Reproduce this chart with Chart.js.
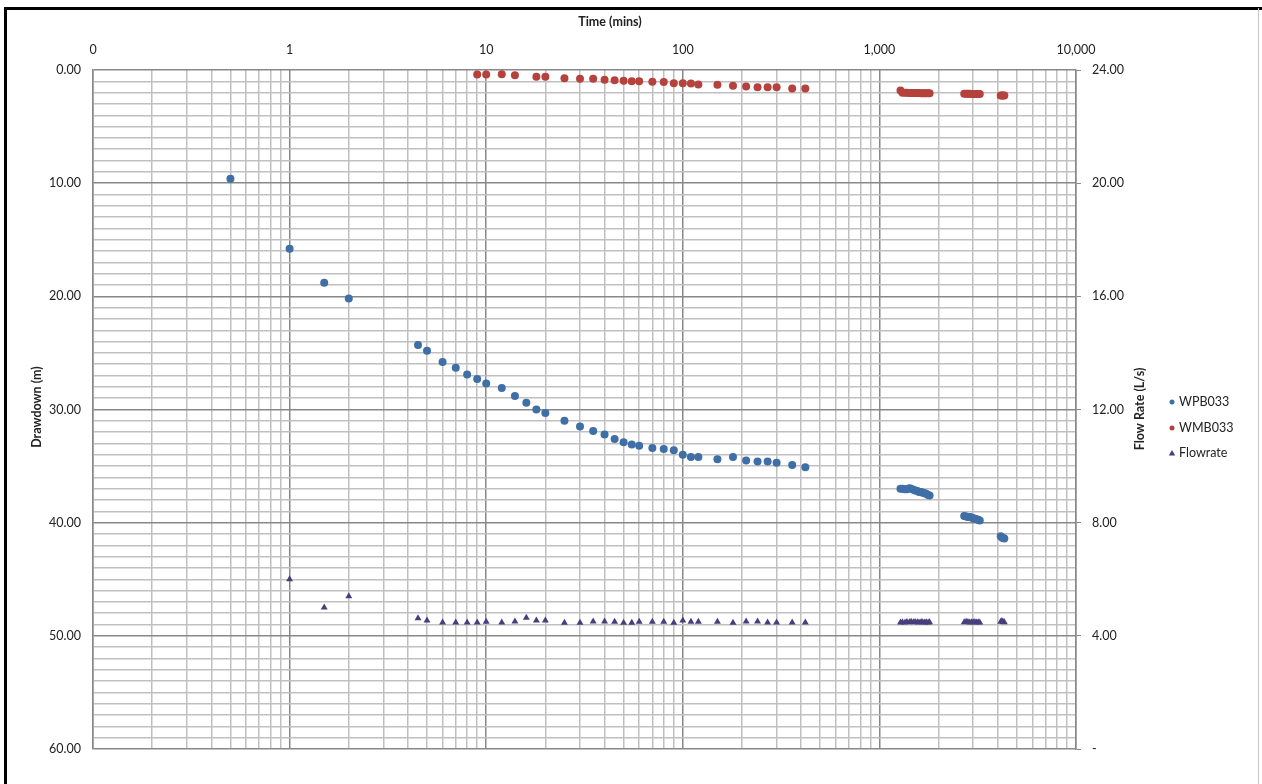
<!DOCTYPE html>
<html>
<head>
<meta charset="utf-8">
<script src="https://cdn.jsdelivr.net/npm/chart.js@4.4.1/dist/chart.umd.min.js"></script>
<style>
  html, body { margin: 0; padding: 0; background: #fff; }
  #wrap { width: 1262px; height: 784px; position: relative; }
</style>
</head>
<body>
<div id="wrap"><canvas id="chart" width="1262" height="784"></canvas></div>
<script>
// decade ticks on the time axis and their labels (Excel shows 0.1 as "0")
const xDecades = [0.1, 1, 10, 100, 1000, 10000];
const xTickLabels = ['0', '1', '10', '100', '1,000', '10,000'];

// WPB033 drawdown (m)
const wpbTime = [0.5, 1, 1.5, 2, 4.5, 5, 6, 7, 8, 9, 10, 12, 14, 16, 18, 20, 25, 30, 35, 40, 45, 50, 55, 60, 70, 80, 90, 100, 110, 120, 150, 180, 210, 240, 270, 300, 360, 420,
    1280, 1310, 1350, 1380, 1420, 1450, 1490, 1520, 1560, 1590, 1630, 1660, 1700, 1730, 1770, 1800,
    2700, 2760, 2820, 2880, 2940, 3000, 3060, 3120, 3180, 3240,
    4140, 4200, 4260, 4320];
const wpbDrawdown = [9.6, 15.8, 18.8, 20.2, 24.3, 24.8, 25.8, 26.3, 26.9, 27.3, 27.7, 28.1, 28.8, 29.4, 30.0, 30.3, 31.0, 31.5, 31.9, 32.2, 32.6, 32.9, 33.1, 33.2, 33.4, 33.5, 33.6, 34.0, 34.2, 34.2, 34.4, 34.2, 34.5, 34.6, 34.6, 34.7, 34.9, 35.1,
    37.0, 37.0, 37.05, 37.05, 36.95, 37.0, 37.1, 37.15, 37.2, 37.3, 37.3, 37.35, 37.4, 37.45, 37.55, 37.6,
    39.4, 39.45, 39.5, 39.5, 39.55, 39.6, 39.65, 39.7, 39.75, 39.8,
    41.2, 41.3, 41.35, 41.4];

// WMB033 drawdown (m)
const wmbTime = [9, 10, 12, 14, 18, 20, 25, 30, 35, 40, 45, 50, 55, 60, 70, 80, 90, 100, 110, 120, 150, 180, 210, 240, 270, 300, 360, 420,
    1280, 1310, 1350, 1380, 1420, 1450, 1490, 1520, 1560, 1590, 1630, 1660, 1700, 1730, 1770, 1800,
    2700, 2760, 2820, 2880, 2940, 3000, 3060, 3120, 3180, 3240,
    4140, 4200, 4260, 4320];
const wmbDrawdown = [0.4, 0.4, 0.37, 0.46, 0.6, 0.6, 0.72, 0.78, 0.78, 0.87, 0.9, 0.95, 0.99, 0.99, 1.04, 1.07, 1.16, 1.16, 1.19, 1.28, 1.31, 1.4, 1.46, 1.52, 1.52, 1.52, 1.63, 1.63,
    1.82, 2.0, 2.02, 2.02, 2.03, 2.03, 2.03, 2.04, 2.04, 2.04, 2.05, 2.05, 2.05, 2.05, 2.05, 2.05,
    2.1, 2.1, 2.1, 2.1, 2.11, 2.11, 2.11, 2.11, 2.12, 2.12,
    2.25, 2.25, 2.26, 2.26];

// Flow rate (L/s), right axis
const flowTime = [1, 1.5, 2, 4.5, 5, 6, 7, 8, 9, 10, 12, 14, 16, 18, 20, 25, 30, 35, 40, 45, 50, 55, 60, 70, 80, 90, 100, 110, 120, 150, 180, 210, 240, 270, 300, 360, 420,
    1280, 1310, 1350, 1380, 1420, 1450, 1490, 1520, 1560, 1590, 1630, 1660, 1700, 1730, 1770, 1800,
    2700, 2760, 2820, 2880, 2940, 3000, 3060, 3120, 3180, 3240,
    4140, 4200, 4260, 4320];
const flowRate = [6.0, 5.0, 5.4, 4.62, 4.54, 4.47, 4.47, 4.47, 4.47, 4.5, 4.47, 4.51, 4.64, 4.54, 4.54, 4.46, 4.46, 4.51, 4.51, 4.5, 4.46, 4.46, 4.5, 4.5, 4.5, 4.46, 4.54, 4.5, 4.5, 4.5, 4.46, 4.51, 4.51, 4.47, 4.47, 4.47, 4.47,
    4.47, 4.48, 4.47, 4.49, 4.48, 4.5, 4.48, 4.49, 4.48, 4.47, 4.49, 4.48, 4.47, 4.48, 4.47, 4.48,
    4.48, 4.5, 4.49, 4.47, 4.48, 4.48, 4.49, 4.47, 4.48, 4.47,
    4.5, 4.52, 4.49, 4.48];

const BLUE = '#3f6fa6';
const RED = '#b5423c';
const PURPLE = '#463f7e';
const FONT = 'Lato, "Open Sans", sans-serif';

const toPoints = (xs, ys) => xs.map((x, i) => ({ x: x, y: ys[i] }));

// custom titles, legend and outer frame
const decorations = {
    id: 'decorations',
    afterDraw(chart) {
        const c = chart.ctx;
        c.save();
        c.fillStyle = '#222';
        c.font = 'bold 12.5px ' + FONT;
        c.textAlign = 'center';
        c.textBaseline = 'middle';
        c.fillText('Time (mins)', 610, 22);

        c.save();
        c.translate(37, 407);
        c.rotate(-Math.PI / 2);
        c.fillText('Drawdown (m)', 0, 0);
        c.restore();

        c.save();
        c.translate(1140, 409);
        c.rotate(-Math.PI / 2);
        c.fillText('Flow Rate (L/s)', 0, 0);
        c.restore();

        // legend
        const items = [
            { label: 'WPB033', color: BLUE, shape: 'circle', y: 402 },
            { label: 'WMB033', color: RED, shape: 'circle', y: 428 },
            { label: 'Flowrate', color: PURPLE, shape: 'triangle', y: 453 }
        ];
        c.font = '12.5px ' + FONT;
        c.textAlign = 'left';
        items.forEach(it => {
            c.fillStyle = it.color;
            c.beginPath();
            if (it.shape === 'circle') {
                c.arc(1172, it.y, 2.5, 0, Math.PI * 2);
            } else {
                c.moveTo(1172, it.y - 3);
                c.lineTo(1175.2, it.y + 2.4);
                c.lineTo(1168.8, it.y + 2.4);
                c.closePath();
            }
            c.fill();
            c.fillStyle = '#222';
            c.fillText(it.label, 1179, it.y);
        });

        // frame around the picture
        c.strokeStyle = '#000';
        c.lineWidth = 3;
        c.beginPath();
        c.moveTo(5.5, 784);
        c.lineTo(5.5, 8.5);
        c.lineTo(1262, 8.5);
        c.stroke();
        c.strokeStyle = '#c8c8c8';
        c.lineWidth = 1;
        c.beginPath();
        c.moveTo(1258.5, 8);
        c.lineTo(1258.5, 784);
        c.stroke();
        c.restore();
    }
};

const ctx = document.getElementById('chart');
new Chart(ctx, {
    type: 'scatter',
    data: {
        datasets: [
            {
                label: 'WPB033',
                data: toPoints(wpbTime, wpbDrawdown),
                yAxisID: 'y',
                pointStyle: 'circle',
                pointRadius: 4,
                backgroundColor: BLUE,
                borderColor: BLUE,
                borderWidth: 0
            },
            {
                label: 'WMB033',
                data: toPoints(wmbTime, wmbDrawdown),
                yAxisID: 'y',
                pointStyle: 'circle',
                pointRadius: 4,
                backgroundColor: RED,
                borderColor: RED,
                borderWidth: 0
            },
            {
                label: 'Flowrate',
                data: toPoints(flowTime, flowRate),
                yAxisID: 'y1',
                pointStyle: 'triangle',
                pointRadius: 4,
                backgroundColor: PURPLE,
                borderColor: PURPLE,
                borderWidth: 0
            }
        ]
    },
    options: {
        responsive: false,
        animation: false,
        layout: { padding: { left: 0, right: 0, top: 0, bottom: 35 } },
        plugins: {
            legend: { display: false },
            tooltip: { enabled: false }
        },
        scales: {
            x: {
                type: 'logarithmic',
                position: 'top',
                min: 0.1,
                max: 10000,
                afterFit: s => { s.height = 70; },
                afterBuildTicks: s => {
                    const ticks = [];
                    xDecades.forEach((d, i) => {
                        if (i === xDecades.length - 1) {
                            ticks.push({ value: d });
                            return;
                        }
                        for (let k = 1; k <= 9; k++) ticks.push({ value: +(d * k).toPrecision(3) });
                    });
                    s.ticks = ticks;
                },
                grid: {
                    color: c => xDecades.includes(c.tick && c.tick.value) ? '#888888' : '#c0c0c0',
                    lineWidth: 1.5,
                    drawTicks: false
                },
                border: { display: false },
                ticks: {
                    autoSkip: false,
                    maxRotation: 0,
                    padding: 13,
                    color: '#222',
                    font: { family: FONT, size: 12.5 },
                    callback: v => {
                        const i = xDecades.indexOf(v);
                        return i >= 0 ? xTickLabels[i] : '';
                    }
                }
            },
            y: {
                type: 'linear',
                position: 'left',
                reverse: true,
                min: 0,
                max: 60,
                afterFit: s => { s.width = 93; },
                grid: {
                    color: c => (c.tick && c.tick.value % 10 === 0) ? '#888888' : '#c0c0c0',
                    lineWidth: 1.5,
                    drawTicks: false
                },
                border: { display: true, color: '#888888', width: 1.5 },
                ticks: {
                    stepSize: 1,
                    autoSkip: false,
                    padding: 12,
                    color: '#222',
                    font: { family: FONT, size: 12.5 },
                    callback: v => (v % 10 === 0 ? v.toFixed(2) : '')
                }
            },
            y1: {
                type: 'linear',
                position: 'right',
                min: 0,
                max: 24,
                afterFit: s => { s.width = 186; },
                grid: {
                    drawOnChartArea: false,
                    drawTicks: true,
                    tickLength: 5,
                    color: '#888888'
                },
                border: { display: true, color: '#888888', width: 1.5 },
                ticks: {
                    stepSize: 4,
                    padding: 11,
                    color: '#222',
                    font: { family: FONT, size: 12.5 },
                    callback: v => (v === 0 ? '-' : v.toFixed(2))
                }
            }
        }
    },
    plugins: [decorations]
});
</script>
</body>
</html>
